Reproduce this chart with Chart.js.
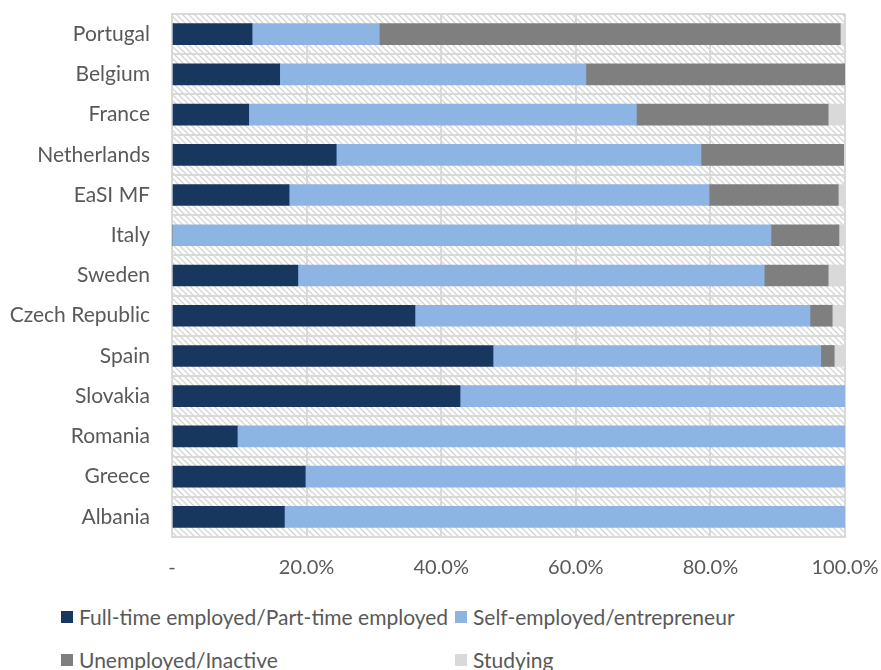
<!DOCTYPE html>
<html>
<head>
<meta charset="utf-8">
<script src="https://cdn.jsdelivr.net/npm/chart.js@4/dist/chart.umd.min.js"></script>
<style>
  html, body { margin: 0; padding: 0; background: #fff; }
  #wrap { width: 881px; height: 670px; position: relative; }
  #chartBox { width: 881px; height: 599px; }
  #legend {
    position: absolute; left: 61px; top: 604px;
    display: grid; grid-template-columns: 394px 300px; row-gap: 18px;
    font-family: Lato, sans-serif; font-size: 21px; line-height: 25px; color: #595959;
  }
  #legend span.item { display: flex; align-items: center; white-space: nowrap; }
  #legend span.box { width: 12px; height: 12px; margin-right: 6px; display: inline-block; }
</style>
</head>
<body>
<div id="wrap">
  <div id="chartBox"><canvas id="employmentChart"></canvas></div>
  <div id="legend"></div>
</div>
<script>
"use strict";

var countries = ['Portugal', 'Belgium', 'France', 'Netherlands', 'EaSI MF', 'Italy', 'Sweden',
    'Czech Republic', 'Spain', 'Slovakia', 'Romania', 'Greece', 'Albania'];

var seriesNames = ['Full-time employed/Part-time employed', 'Self-employed/entrepreneur',
    'Unemployed/Inactive', 'Studying'];

var employed   = [11.9, 16.0, 11.4, 24.4, 17.4,  0.0, 18.7, 36.1, 47.7, 42.8,  9.7, 19.8, 16.7];
var selfEmp    = [18.9, 45.5, 57.6, 54.2, 62.4, 89.0, 69.3, 58.7, 48.7, 57.2, 90.3, 80.2, 83.3];
var unemployed = [68.5, 38.5, 28.5, 21.2, 19.2, 10.1,  9.5,  3.3,  2.0,  0.0,  0.0,  0.0,  0.0];
var studying   = [ 0.7,  0.0,  2.5,  0.2,  1.0,  0.9,  2.5,  1.9,  1.6,  0.0,  0.0,  0.0,  0.0];

var xTicks = ['-', '20.0%', '40.0%', '60.0%', '80.0%', '100.0%'];

var colours = ['#17375e', '#8db4e2', '#7f7f7f', '#d9d9d9'];

// diagonal hatch behind the plot area
function makeHatch() {
    var c = document.createElement('canvas');
    c.width = 6; c.height = 6;
    var g = c.getContext('2d');
    g.fillStyle = '#ffffff';
    g.fillRect(0, 0, 6, 6);
    g.strokeStyle = '#d4d4d4';
    g.lineWidth = 1.3;
    g.beginPath();
    g.moveTo(-1, -1); g.lineTo(7, 7);
    g.moveTo(-1, 5); g.lineTo(1, 7);
    g.moveTo(5, -1); g.lineTo(7, 1);
    g.stroke();
    return c;
}

var hatchPlugin = {
    id: 'hatch',
    beforeDraw: function (chart) {
        var ctx = chart.ctx, a = chart.chartArea;
        ctx.save();
        ctx.fillStyle = ctx.createPattern(makeHatch(), 'repeat');
        ctx.fillRect(a.left, a.top, a.right - a.left, a.bottom - a.top);
        ctx.restore();
    }
};

// no automatic overhang padding, the layout padding decides
function noOverhang(s) {
    s.paddingTop = 0; s.paddingBottom = 0;
    s.paddingLeft = 0; s.paddingRight = 0;
}

var datasets = [employed, selfEmp, unemployed, studying].map(function (d, i) {
    return {
        label: seriesNames[i],
        data: d,
        backgroundColor: colours[i],
        borderWidth: 0,
        barThickness: 21
    };
});

var chart = new Chart(document.getElementById('employmentChart'), {
    type: 'bar',
    data: { labels: countries, datasets: datasets },
    plugins: [hatchPlugin],
    options: {
        indexAxis: 'y',
        responsive: true,
        maintainAspectRatio: false,
        animation: false,
        layout: { padding: { top: 14, right: 36, left: 0, bottom: 0 } },
        plugins: { legend: { display: false }, tooltip: { enabled: false } },
        scales: {
            x: {
                stacked: true,
                min: 0, max: 100,
                afterFit: noOverhang,
                ticks: {
                    stepSize: 20,
                    padding: 19,
                    maxRotation: 0,
                    color: '#595959',
                    font: { family: 'Lato', size: 20 },
                    callback: function (v, i) { return xTicks[i]; }
                },
                grid: { color: '#d9d9d9', lineWidth: 2, drawTicks: false },
                border: { display: true, color: '#d9d9d9', width: 2 }
            },
            y: {
                stacked: true,
                afterFit: function (s) { noOverhang(s); s.width = 172; },
                ticks: {
                    padding: 22,
                    color: '#595959',
                    font: { family: 'Lato', size: 21 }
                },
                grid: { color: '#d9d9d9', lineWidth: 2, drawTicks: false },
                border: { display: true, color: '#d9d9d9', width: 2 }
            }
        }
    }
});

// legend laid out in two columns like the original
var legend = document.getElementById('legend');
seriesNames.forEach(function (name, i) {
    var item = document.createElement('span');
    item.className = 'item';
    item.innerHTML = '<span class="box" style="background:' + colours[i] + '"></span>' + name;
    legend.appendChild(item);
});
</script>
</body>
</html>
